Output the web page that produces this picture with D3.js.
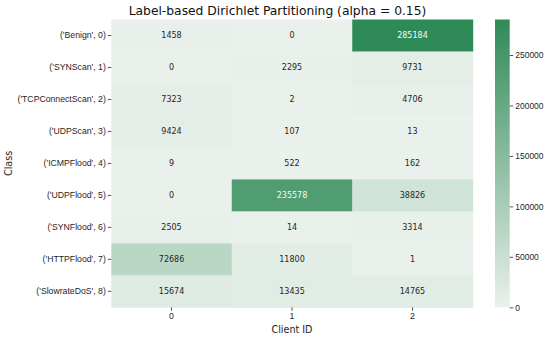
<!DOCTYPE html>
<html>
<head>
<meta charset="utf-8">
<script src="https://cdn.jsdelivr.net/npm/d3@7"></script>
<style>
  body { margin: 0; background: #fff; }
  svg { font-family: "DejaVu Sans", sans-serif; }
  .tick text { fill: #262626; }
  .tick line { stroke: #555; }
</style>
</head>
<body>
<svg id="chart" width="550" height="337"></svg>
<script>
const classes = ["('Benign', 0)", "('SYNScan', 1)", "('TCPConnectScan', 2)", "('UDPScan', 3)",
  "('ICMPFlood', 4)", "('UDPFlood', 5)", "('SYNFlood', 6)", "('HTTPFlood', 7)", "('SlowrateDoS', 8)"];
const clients = ["0", "1", "2"];
const client0 = [1458, 0, 7323, 9424, 9, 0, 2505, 72686, 15674];
const client1 = [0, 2295, 2, 107, 522, 235578, 14, 11800, 13435];
const client2 = [285184, 9731, 4706, 13, 162, 38826, 3314, 1, 14765];
const cbarTicks = [0, 50000, 100000, 150000, 200000, 250000];

const svg = d3.select("#chart");
const margin = { left: 111.3, top: 19.5, right: 472.7, bottom: 307.3 };

const cells = [];
[client0, client1, client2].forEach((col, ci) => {
  col.forEach((v, ri) => cells.push({ client: clients[ci], cls: classes[ri], value: v }));
});

const vmax = d3.max(cells, d => d.value);
const x = d3.scaleBand().domain(clients).range([margin.left, margin.right]);
const y = d3.scaleBand().domain(classes).range([margin.top, margin.bottom]);
const color = d3.scaleLinear().domain([0, vmax]).range(["#eaf1ec", "#2e8b57"]).interpolate(d3.interpolateRgb);

svg.selectAll("rect.cell")
  .data(cells)
  .enter()
  .append("rect")
  .attr("class", "cell")
  .attr("x", d => x(d.client))
  .attr("y", d => y(d.cls))
  .attr("width", x.bandwidth() + 0.5)
  .attr("height", y.bandwidth() + 0.5)
  .attr("fill", d => color(d.value));

svg.selectAll("text.annot")
  .data(cells)
  .enter()
  .append("text")
  .attr("class", "annot")
  .attr("x", d => x(d.client) + x.bandwidth() / 2)
  .attr("y", d => y(d.cls) + y.bandwidth() / 2)
  .attr("dy", "0.35em")
  .attr("text-anchor", "middle")
  .attr("font-size", 8)
  .attr("fill", d => d.value > 150000 ? "#f4fbf6" : "#262626")
  .text(d => d.value);

// axes
const yAxis = svg.append("g")
  .attr("transform", `translate(${margin.left},0)`)
  .call(d3.axisLeft(y).tickSize(3.5).tickPadding(2));
yAxis.select(".domain").remove();
yAxis.selectAll("text").attr("font-size", 8.7);

const xAxis = svg.append("g")
  .attr("transform", `translate(0,${margin.bottom})`)
  .call(d3.axisBottom(x).tickSize(3.5).tickPadding(2));
xAxis.select(".domain").remove();
xAxis.selectAll("text").attr("font-size", 8.7);

svg.append("text")
  .attr("x", (margin.left + margin.right) / 2)
  .attr("y", 333)
  .attr("text-anchor", "middle")
  .attr("font-size", 9.6)
  .attr("fill", "#262626")
  .text("Client ID");

svg.append("text")
  .attr("transform", `translate(12,${(margin.top + margin.bottom) / 2}) rotate(-90)`)
  .attr("text-anchor", "middle")
  .attr("font-size", 9.6)
  .attr("fill", "#262626")
  .text("Class");

svg.append("text")
  .attr("x", 277.5)
  .attr("y", 15)
  .attr("text-anchor", "middle")
  .attr("font-size", 12.3)
  .attr("fill", "#111")
  .text("Label-based Dirichlet Partitioning (alpha = 0.15)");

// colorbar
const cbX = 495, cbW = 14.7;
const cy = d3.scaleLinear().domain([0, vmax]).range([margin.bottom, margin.top]);
const grad = svg.append("defs").append("linearGradient")
  .attr("id", "cbgrad")
  .attr("x1", 0).attr("y1", 1).attr("x2", 0).attr("y2", 0);
grad.append("stop").attr("offset", 0).attr("stop-color", color(0));
grad.append("stop").attr("offset", 1).attr("stop-color", color(vmax));

svg.append("rect")
  .attr("x", cbX)
  .attr("y", margin.top)
  .attr("width", cbW)
  .attr("height", margin.bottom - margin.top)
  .attr("fill", "url(#cbgrad)");

const cAxis = svg.append("g")
  .attr("transform", `translate(${cbX + cbW},0)`)
  .call(d3.axisRight(cy).tickValues(cbarTicks).tickSize(3.5).tickPadding(2).tickFormat(d3.format("d")));
cAxis.select(".domain").remove();
cAxis.selectAll("text").attr("font-size", 8.5);
</script>
</body>
</html>
